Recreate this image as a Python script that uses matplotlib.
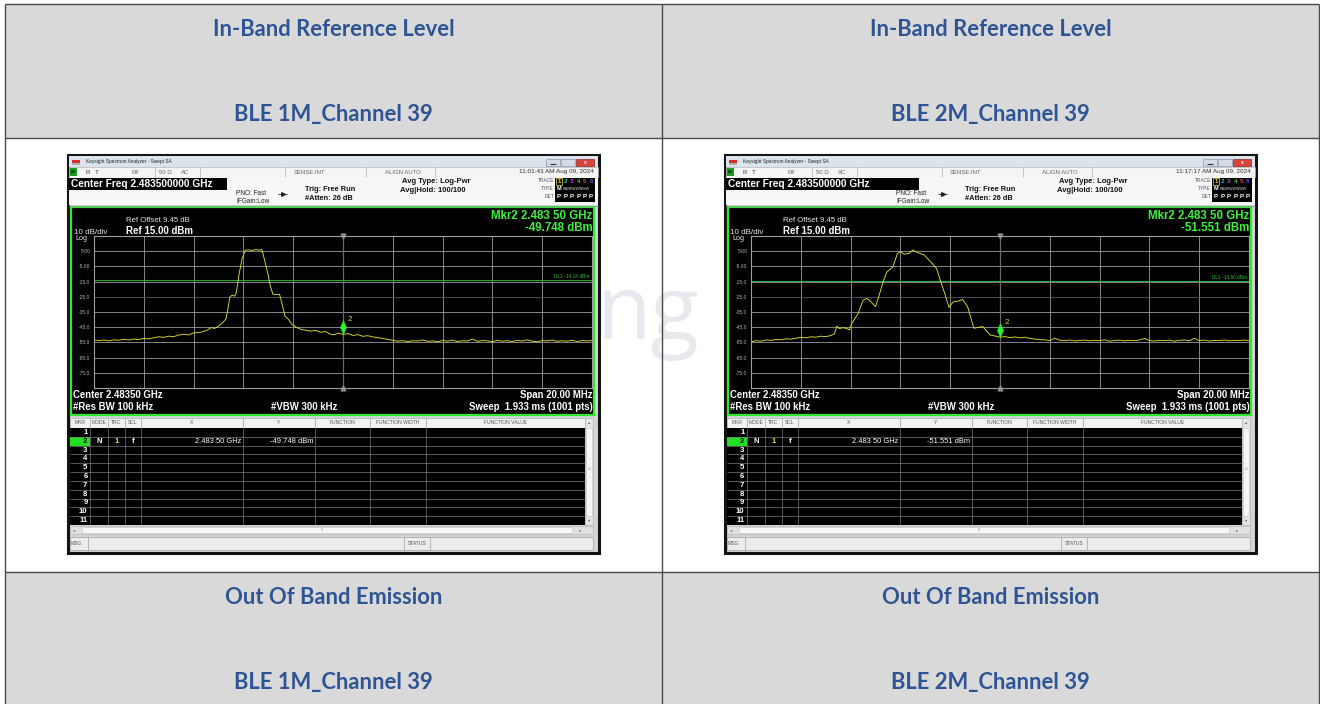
import numpy as np
import matplotlib.pyplot as plt
from matplotlib.patches import Rectangle, Arc
from matplotlib.path import Path

plt.rcParams['font.family'] = ['Liberation Sans', 'DejaVu Sans']

W, H = 1320, 704
HEAD_FONT = ['Lato', 'DejaVu Sans']

# table captions
top_titles = ["In-Band Reference Level", "In-Band Reference Level"]
bottom_titles = ["Out Of Band Emission", "Out Of Band Emission"]
modes = ["BLE 1M_Channel 39", "BLE 2M_Channel 39"]

# analyzer settings shown on both screens
center_mhz = 2483.5
span_mhz = 20.0
ref_level = 15.0
db_div = 10.0
y_ticks = [5, -5, -15, -25, -35, -45, -55, -65, -75]
y_tick_labels = ["5.00", "-5.00", "-15.0", "-25.0", "-35.0", "-45.0", "-55.0", "-65.0", "-75.0"]
timestamps = ["11:01:43 AM Aug 09, 2024", "11:17:17 AM Aug 09, 2024"]
marker_mhz = [2483.5, 2483.5]
marker_dbm = [-49.748, -51.551]
display_line = [-14.18, -14.60]

# BLE 1M trace (dBm)
floor1_left = [-53.2, -53.9, -53.4, -54.0, -53.3, -53.6, -52.9, -53.4, -52.8, -53.1, -52.4,
               -52.7, -51.9, -51.3, -51.7, -50.9, -51.2, -50.2, -49.6, -50.1, -48.7]
shape1_mhz = [2477.7, 2477.9, 2478.05, 2478.2, 2478.35, 2478.5, 2478.65, 2478.8, 2478.88, 2478.95,
              2479.05, 2479.15, 2479.22, 2479.32, 2479.45, 2479.58, 2479.7, 2479.85, 2480.0, 2480.12,
              2480.24, 2480.3, 2480.4, 2480.5, 2480.57, 2480.68, 2480.8, 2480.95, 2481.05, 2481.17,
              2481.3, 2481.45, 2481.6, 2481.8, 2482.0, 2482.2, 2482.4, 2482.6, 2482.8, 2483.0,
              2483.15, 2483.3, 2483.5, 2483.7, 2483.9, 2484.1, 2484.3, 2484.5, 2484.7, 2484.9,
              2485.1, 2485.3]
shape1_dbm = [-48.6, -47.8, -46.9, -45.3, -45.8, -44.2, -42.3, -39.5, -33.0, -25.2,
              -23.9, -24.6, -22.0, -10.7, 0.3, 5.6, 5.9, 5.5, 6.1, 5.7,
              6.0, 2.5, -4.1, -11.0, -17.2, -23.2, -23.6, -23.3, -29.5, -37.8,
              -39.6, -43.1, -44.8, -46.4, -47.0, -47.6, -47.1, -48.3, -47.9, -49.6,
              -50.0, -48.9, -49.75, -49.2, -50.4, -49.9, -51.0, -50.6, -51.4, -51.9,
              -52.3, -53.1]
floor1_right = [-53.6, -54.2, -53.8, -54.5, -53.9, -54.1, -53.4, -54.3, -54.0, -54.6, -53.7,
                -54.2, -53.5, -54.4, -53.9, -54.1, -52.8, -54.3, -53.8, -54.0, -54.5, -53.6,
                -54.2, -53.9, -54.4, -53.7, -54.1, -53.3, -54.2, -54.6, -53.8, -54.0, -53.5,
                -54.3, -53.9, -54.2, -53.6, -54.4, -53.8, -54.1, -53.7]

# BLE 2M trace (dBm)
floor2_left = [-54.6, -53.9, -54.2, -53.4, -53.7, -53.0, -53.3, -52.6, -52.9, -52.2, -51.7,
               -52.0, -51.3, -51.6, -50.9, -51.2, -50.5]
shape2_mhz = [2476.85, 2476.95, 2477.05, 2477.2, 2477.35, 2477.45, 2477.55, 2477.8, 2478.0, 2478.15,
              2478.3, 2478.5, 2478.62, 2478.8, 2478.95, 2479.2, 2479.38, 2479.5, 2479.65, 2479.85,
              2480.0, 2480.2, 2480.45, 2480.65, 2480.95, 2481.1, 2481.3, 2481.45, 2481.62, 2481.8,
              2482.0, 2482.2, 2482.45, 2482.6, 2482.8, 2482.95, 2483.1, 2483.3, 2483.5, 2483.7,
              2483.9, 2484.1, 2484.3, 2484.5, 2484.7, 2484.9, 2485.1]
shape2_dbm = [-49.4, -44.3, -45.9, -45.3, -45.9, -46.8, -42.5, -36.0, -27.3, -26.0,
              -28.0, -31.5, -25.5, -15.3, -8.8, -5.3, 3.4, 4.8, 3.0, 3.6,
              5.8, 4.0, 2.6, -0.8, -6.3, -14.0, -23.8, -31.9, -28.3, -27.9,
              -26.8, -31.5, -45.7, -45.2, -44.6, -47.2, -50.1, -50.8, -51.55, -51.2,
              -51.8, -51.4, -52.0, -51.6, -52.3, -52.8, -53.2]
floor2_right = [-53.3, -53.8, -52.2, -53.6, -53.9, -53.4, -54.1, -53.7, -53.5, -54.0, -53.6,
                -53.9, -53.3, -54.2, -53.8, -53.5, -54.0, -53.6, -53.9, -53.4, -52.4, -53.8,
                -54.1, -53.6, -53.9, -53.5, -54.2, -53.7, -53.4, -54.0, -52.3, -53.8, -53.5,
                -54.1, -53.7, -53.9, -53.4, -54.0, -53.6, -53.8, -53.5, -53.7]

traces = [
    (np.concatenate([np.linspace(2473.5, 2477.5, len(floor1_left)), shape1_mhz,
                     np.linspace(2485.5, 2493.5, len(floor1_right))]),
     np.concatenate([floor1_left, shape1_dbm, floor1_right])),
    (np.concatenate([np.linspace(2473.5, 2476.7, len(floor2_left)), shape2_mhz,
                     np.linspace(2485.3, 2493.5, len(floor2_right))]),
     np.concatenate([floor2_left, shape2_dbm, floor2_right])),
]

fig = plt.figure(figsize=(13.2, 7.04), dpi=100)
bg = fig.add_axes([0, 0, 1, 1])
bg.set_xlim(0, W)
bg.set_ylim(H, 0)
bg.axis('off')


def box(x, y, w, h, fc, ec='none', lw=0, z=2):
    bg.add_patch(Rectangle((x, y), w, h, facecolor=fc, edgecolor=ec, linewidth=lw, zorder=z))


def label(x, y, s, size, color='black', ha='left', weight='normal', z=6, family=None):
    kw = {} if family is None else {'family': family}
    bg.text(x, y, s, fontsize=size, color=color, ha=ha, va='center',
            fontweight=weight, zorder=z, **kw)


def vline(x, y0, y1, color='#9a9a9a', lw=0.5, z=5):
    bg.plot([x, x], [y0, y1], color=color, lw=lw, zorder=z, solid_capstyle='butt')


def hline(y, x0, x1, color='#9a9a9a', lw=0.5, z=5):
    bg.plot([x0, x1], [y, y], color=color, lw=lw, zorder=z, solid_capstyle='butt')


# ---- table background ----
box(5, 3.5, 1314, 134, '#d9d9d9', z=0)
box(5, 572, 1314, 132, '#d9d9d9', z=0)
for yy in [3.5, 137.5, 572]:
    hline(yy, 5, 1319, '#4a4a4a', 1.0, z=1)
for xx in [5, 662, 1319]:
    vline(xx, 3.5, 704, '#4a4a4a', 1.0, z=1)

for i, cx in enumerate([333.5, 990.5]):
    label(cx, 29, top_titles[i], 15.8, '#2f5496', 'center', 'bold', family=HEAD_FONT)
    label(cx, 114, modes[i], 15.8, '#2f5496', 'center', 'bold', family=HEAD_FONT)
    label(cx, 597, bottom_titles[i], 15.8, '#2f5496', 'center', 'bold', family=HEAD_FONT)
    label(cx, 682, modes[i], 15.8, '#2f5496', 'center', 'bold', family=HEAD_FONT)

# faint watermark behind the screenshots
bg.text(648, 316, "ng", fontsize=64, color='#e8e8ee', ha='center', va='center',
        family=['Open Sans', 'DejaVu Sans'], zorder=0.5)
bg.add_patch(Arc((662, 470), 640, 640, theta1=62, theta2=118, color='#ebebf1', lw=16, zorder=0.5))

diamond = Path([(0, 0), (0.45, 1), (0, 2), (-0.45, 1), (0, 0)],
               [Path.MOVETO, Path.LINETO, Path.LINETO, Path.LINETO, Path.CLOSEPOLY])

cf_box_w = [158, 193]
digit_colors = ['#f0e020', '#20c8c8', '#d040d0', '#40d040', '#e84040', '#5050f0']


def draw_screen(k, dx):
    def X(v):
        return v + dx

    # window frame and title bar
    box(X(68), 155, 531, 398, '#d4d4d4', '#141414', 2.2, z=2)
    box(X(69), 156, 529, 11, '#dbe3ec', z=3)
    box(X(72), 159.5, 8, 3, '#d03030', z=4)
    box(X(72), 162.5, 8, 2, '#b0b0b0', z=4)
    label(X(86), 162, "Keysight Spectrum Analyzer - Swept SA", 3.4, '#222222')
    box(X(546), 158.5, 14, 7.5, '#d3dce6', '#8a9bb0', 0.5, z=4)
    box(X(561), 158.5, 14, 7.5, '#d3dce6', '#8a9bb0', 0.5, z=4)
    box(X(576), 158.5, 18, 7.5, '#d9443a', '#8a2a24', 0.5, z=4)
    hline(163.5, X(550), X(556), '#333333', 0.8, z=6)
    label(X(585), 162, "x", 3.6, 'white', 'center', 'bold')

    # status row
    box(X(69), 167, 529, 10, '#f4f4f4', '#b0b0b0', 0.4, z=3)
    box(X(70), 168, 7, 8, '#1e9a1e', z=4)
    label(X(73.5), 172, "LXI", 2.2, 'black', 'center', 'bold')
    for sx in [155, 200, 285, 366, 435]:
        vline(X(sx), 167, 177, '#b0b0b0', 0.5)
    label(X(86), 172, "R   T", 4.3, '#333333')
    label(X(135), 172, "RF", 4.3, '#666666', 'center')
    label(X(165), 172, "50 \u03a9", 4.3, '#666666', 'center')
    label(X(185), 172, "AC", 4.3, '#666666', 'center')
    label(X(309), 172, "SENSE:INT", 4.3, '#666666', 'center')
    label(X(403), 172, "ALIGN AUTO", 4.3, '#666666', 'center')
    label(X(594), 172, timestamps[k], 4.6, '#333333', 'right')

    # setup panel
    box(X(69), 177, 529, 28, '#f7f7f7', z=3)
    box(X(69), 177.5, cf_box_w[k], 12.5, 'black', z=4)
    label(X(71), 184, f"Center Freq {center_mhz / 1000:.9f} GHz", 7.3, 'white', weight='bold')
    hline(205.5, X(69), X(598), '#9a9a9a', 0.6)
    px = X(236) + (3 if k else 0)
    label(px, 193.5, "PNO: Fast", 4.7, '#222222')
    label(px, 201.5, "IFGain:Low", 4.7, '#222222')
    hline(193.5, px + 42, px + 51, '#222222', 0.6)
    bg.plot([px + 46.5], [193.5], marker='>', ms=2.6, color='#222222', zorder=6)
    label(X(305) + (3 if k else 0), 189.5, "Trig: Free Run", 5.3, '#111111', weight='bold')
    label(X(305) + (3 if k else 0), 198.5, "#Atten: 26 dB", 5.3, '#111111', weight='bold')
    label(X(402), 181.5, "Avg Type: Log-Pwr", 5.5, '#111111', weight='bold')
    label(X(400), 190, "Avg|Hold: 100/100", 5.5, '#111111', weight='bold')
    label(X(554), 181, "TRACE", 3.5, '#555555', 'right')
    label(X(554), 189, "TYPE", 3.5, '#555555', 'right')
    label(X(554), 197, "DET", 3.5, '#555555', 'right')
    box(X(555), 177.5, 40, 24, 'black', z=4)
    box(X(556), 177.8, 6, 6.8, 'none', '#f0e020', 0.5, z=5)
    for d in range(6):
        label(X(559) + 6.4 * d, 181.2, str(d + 1), 4.4, digit_colors[d], 'center', 'bold')
        label(X(559) + 6.4 * d, 197, "P", 4.4, 'white', 'center', 'bold')
    label(X(559), 189, "M", 4.0, 'white', 'center', 'bold')
    label(X(562.5), 189, "WWWWWWWW", 2.6, '#dddddd')

    # measurement display
    box(X(71), 206.5, 523, 208.5, 'black', '#2ee82e', 1.6, z=3)
    label(X(126), 221, "Ref Offset 9.45 dB", 5.6, '#e6e6e6')
    label(X(73.5), 232, "10 dB/div", 5.8, '#e6e6e6')
    label(X(126), 231.5, f"Ref {ref_level:.2f} dBm", 7.0, 'white', weight='bold')
    label(X(75), 238.5, "Log", 5.2, '#e6e6e6')
    mk = f"{marker_mhz[k] / 1000:.5f}"
    mk = mk[:5] + ' ' + mk[5:]
    label(X(592.5), 216, f"Mkr2 {mk} GHz", 8.3, '#3cf03c', 'right', 'bold')
    label(X(592.5), 228, f"{marker_dbm[k]:.3f} dBm", 8.3, '#3cf03c', 'right', 'bold')
    label(X(73), 395, f"Center {center_mhz / 1000:.5f} GHz", 6.9, 'white', weight='bold')
    label(X(73), 407, "#Res BW 100 kHz", 6.9, 'white', weight='bold')
    label(X(271), 407, "#VBW 300 kHz", 6.9, 'white', weight='bold')
    label(X(592.5), 395, f"Span {span_mhz:.2f} MHz", 6.9, 'white', 'right', 'bold')
    label(X(592.5), 407, "Sweep  1.933 ms (1001 pts)", 6.9, 'white', 'right', 'bold')

    # spectrum graticule and trace
    gx0, gx1, gy0, gy1 = X(94), X(592), 236, 388
    ax = fig.add_axes([gx0 / W, 1 - gy1 / H, (gx1 - gx0) / W, (gy1 - gy0) / H])
    ax.set_facecolor('black')
    ax.set_zorder(10)
    ax.set_xlim(center_mhz - span_mhz / 2, center_mhz + span_mhz / 2)
    ax.set_ylim(ref_level - 10 * db_div, ref_level)
    ax.set_xticks(np.linspace(center_mhz - span_mhz / 2, center_mhz + span_mhz / 2, 11)[1:-1])
    ax.set_yticks(y_ticks)
    ax.set_yticklabels(y_tick_labels)
    ax.tick_params(axis='x', length=0, labelbottom=False)
    ax.tick_params(axis='y', length=0, labelsize=3.6, labelcolor='#b4b4b4', pad=2.5)
    ax.grid(True, color='#9c9c9c', lw=0.6)
    ax.get_ygridlines()[3].set_color('#5a5a5a')
    for sp in ax.spines.values():
        sp.set_color('#a0a0a0')
        sp.set_linewidth(0.8)
    ax.axvline(center_mhz, color='#6a6a6a', lw=0.9)
    ax.plot([center_mhz], [ref_level], marker='v', ms=3.5, color='#8a8a8a', clip_on=False)
    ax.plot([center_mhz], [ref_level - 10 * db_div], marker='^', ms=3.5, color='#8a8a8a', clip_on=False)
    ax.axhline(display_line[k], color='#1fae1f', lw=0.8)
    ax.text(center_mhz + span_mhz / 2 - 0.1, display_line[k] + 0.8, f"DL1 {display_line[k]:.2f} dBm",
            fontsize=3.4, color='#2cc82c', ha='right', va='bottom')
    ax.plot(traces[k][0], traces[k][1], color='#dede2a', lw=0.65)
    ax.plot([marker_mhz[k]], [marker_dbm[k]], marker=diamond, ms=20, color='#2cf02c', mew=0.3,
            linestyle='none')
    ax.annotate("2", (marker_mhz[k], marker_dbm[k]), xytext=(3.6, 9.5), textcoords='offset points',
                fontsize=5.8, color='#dede2a')

    # marker table
    cols = [70, 89.7, 108, 124.7, 140.7, 243, 315, 370, 426, 585]
    heads = ["MKR", "MODE", "TRC", "SCL", "X", "Y", "FUNCTION", "FUNCTION WIDTH", "FUNCTION VALUE"]
    box(X(70), 418, 515, 10, '#f2f2f2', '#9a9a9a', 0.4, z=3)
    box(X(70), 428, 515, 97, 'black', z=3)
    for c in range(len(heads)):
        label(X((cols[c] + cols[c + 1]) / 2), 423, heads[c], 3.6, '#555555', 'center')
    for c in cols[1:-1]:
        vline(X(c), 418, 428, '#a0a0a0', 0.5)
        vline(X(c), 428, 525, '#7a7a7a', 0.5)
    row_h = 97 / 11
    for r in range(1, 11):
        hline(428 + r * row_h, X(70), X(585), '#7a7a7a', 0.5)
    box(X(70), 428 + row_h, 19.7, row_h, '#22e022', z=4)
    for r in range(11):
        label(X(87.5), 428 + (r + 0.5) * row_h, str(r + 1), 5.6,
              'black' if r == 1 else 'white', 'right', 'bold')
    yr = 428 + 1.5 * row_h
    label(X(98.8), yr, "N", 5.6, 'white', 'center', 'bold')
    label(X(116.3), yr, "1", 5.6, '#f0e020', 'center', 'bold')
    label(X(132.7), yr, "f", 5.6, 'white', 'center', 'bold')
    label(X(241), yr, f"{mk} GHz", 5.4, 'white', 'right')
    label(X(313), yr, f"{marker_dbm[k]:.3f} dBm", 5.4, 'white', 'right')

    # scroll bars and message bar
    box(X(585), 418, 8, 107, '#e4e4e4', '#b0b0b0', 0.4, z=4)
    box(X(586), 428, 6, 88, '#f6f6f6', '#c0c0c0', 0.4, z=5)
    label(X(589), 422.5, "\u25b4", 3.2, '#666666', 'center')
    label(X(589), 520.5, "\u25be", 3.2, '#666666', 'center')
    label(X(589), 468, "\u2261", 3.2, '#888888', 'center')
    box(X(70), 526, 523, 8, '#e0e0e0', '#b0b0b0', 0.4, z=4)
    box(X(82), 527, 490, 6, '#f6f6f6', '#c0c0c0', 0.4, z=5)
    label(X(74), 530, "\u25c2", 3.2, '#666666', 'center')
    label(X(580), 530, "\u25b8", 3.2, '#666666', 'center')
    label(X(322), 530, "III", 2.8, '#888888', 'center')
    box(X(70), 537, 523, 13, '#ececec', '#a0a0a0', 0.5, z=4)
    label(X(71), 543.5, "MSG", 3.6, '#555555')
    for sx in [88, 404, 430]:
        vline(X(sx), 537, 550, '#a0a0a0', 0.5)
    label(X(417), 543.5, "STATUS", 3.6, '#555555', 'center')


draw_screen(0, 0)
draw_screen(1, 657)

fig.savefig("out.png", dpi=100, facecolor='white')
